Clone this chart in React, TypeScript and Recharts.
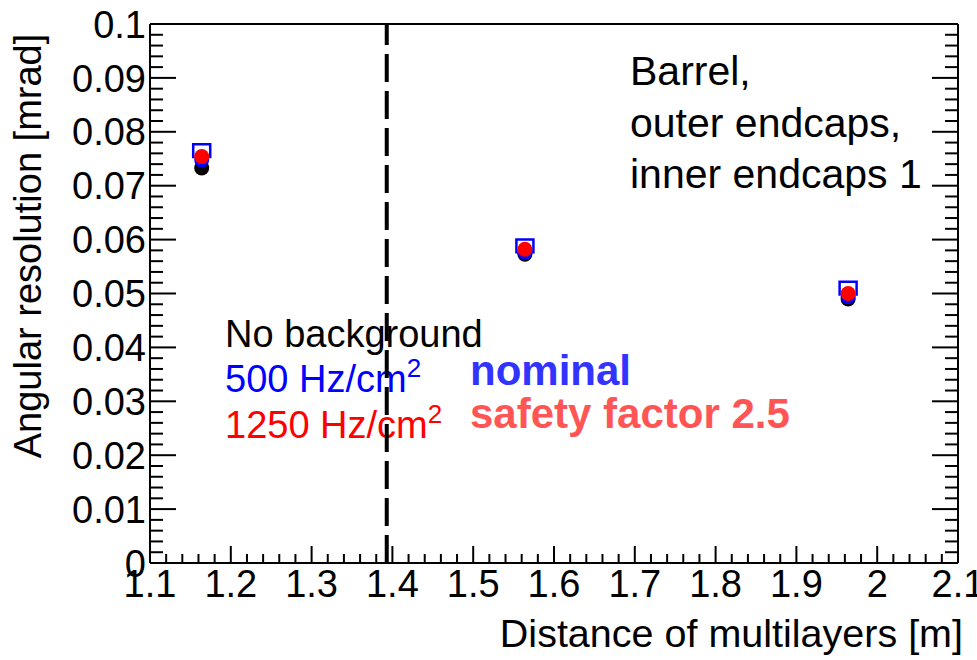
import { ScatterChart, Scatter, XAxis, YAxis, ReferenceLine } from 'recharts';

// distance of the multilayers [m]
const distances = [1.164, 1.564, 1.964];

// angular resolution [mrad]
const noBackground = [0.0733, 0.0573, 0.049];
const nominal500 = [0.0748, 0.0576, 0.0494];
const safety1250 = [0.0754, 0.0582, 0.05];
const nominal500Err = [0.0029, 0.0024, 0.0028];

// every 0.02 m / 0.002 mrad; the round values get a long tick (and a label on the bottom/left)
const xTicks = Array.from({ length: 51 }, (_, i) => +(1.1 + i * 0.02).toFixed(2));
const yTicks = Array.from({ length: 51 }, (_, i) => +(i * 0.002).toFixed(3));
const isMajorX = (v: number) => Math.abs(v * 10 - Math.round(v * 10)) < 1e-6;
const isMajorY = (v: number) => Math.abs(v * 100 - Math.round(v * 100)) < 1e-6;

const separator = 1.393;

const W = 977;
const H = 660;
const FONT = '"Liberation Sans", Arial, Helvetica, sans-serif';

const toPoints = (ys: number[]) => distances.map((x, i) => ({ x, y: ys[i] }));
const blackPts = toPoints(noBackground);
const bluePts = toPoints(nominal500);
const redPts = toPoints(safety1250);
const bluePtsUp = toPoints(nominal500.map((v, i) => v + nominal500Err[i]));

const dot = (color: string) => (p: any) => (
    <circle cx={p.cx} cy={p.cy} r={7.5} fill={color} />
);

const bracket = (p: any) => (
    <path
        d={`M${p.cx - 8.5},${p.cy + 14} L${p.cx - 8.5},${p.cy} L${p.cx + 8.5},${p.cy} L${p.cx + 8.5},${p.cy + 14}`}
        stroke="#0000ff"
        strokeWidth={2.5}
        fill="none"
    />
);

const tickText = { fontFamily: FONT, fontSize: 38, fill: '#000' };

const fmt = (v: number) => String(+v.toFixed(3));

const BottomTick = (p: any) => {
    const v = p.payload.value;
    const major = isMajorX(v);
    return (
        <g>
            <line x1={p.x} x2={p.x} y1={p.y} y2={p.y - (major ? 17 : 9)} stroke="#000" strokeWidth={2} />
            {major && (
                <text x={p.x} y={p.y + 34} textAnchor="middle" {...tickText}>
                    {fmt(v)}
                </text>
            )}
        </g>
    );
};

const TopTick = (p: any) => {
    const major = isMajorX(p.payload.value);
    return <line x1={p.x} x2={p.x} y1={p.y} y2={p.y + (major ? 17 : 9)} stroke="#000" strokeWidth={2} />;
};

const LeftTick = (p: any) => {
    const v = p.payload.value;
    const major = isMajorY(v);
    return (
        <g>
            <line x1={p.x} x2={p.x + (major ? 26 : 13)} y1={p.y} y2={p.y} stroke="#000" strokeWidth={2} />
            {major && (
                <text x={p.x - 4} y={p.y} dy="0.36em" textAnchor="end" {...tickText}>
                    {fmt(v)}
                </text>
            )}
        </g>
    );
};

const RightTick = (p: any) => {
    const major = isMajorY(p.payload.value);
    return <line x1={p.x} x2={p.x - (major ? 26 : 13)} y1={p.y} y2={p.y} stroke="#000" strokeWidth={2} />;
};

const axisLine = { stroke: '#000', strokeWidth: 2 };
const common = {
    type: 'number' as const,
    interval: 0 as const,
    tickSize: 0,
    tickMargin: 0,
    tickLine: false,
    axisLine,
    allowDataOverflow: true,
};

export default function App() {
    return (
        <div style={{ position: 'absolute', left: 0, top: 0, width: W, height: H, background: '#fff' }}>
            {/* annotation layer, sits under the plot so the separator line crosses the text */}
            <svg width={W} height={H} style={{ position: 'absolute', left: 0, top: 0 }}>
                <g fontFamily={FONT}>
                    <text x={41} y={246} fontSize={38} textAnchor="middle" transform="rotate(-90 41 246)">
                        Angular resolution [mrad]
                    </text>
                    <text x={963} y={647} fontSize={39.5} textAnchor="end">
                        Distance of multilayers [m]
                    </text>

                    <text x={630} y={85} fontSize={41}>Barrel,</text>
                    <text x={630} y={137} fontSize={41}>outer endcaps,</text>
                    <text x={630} y={188} fontSize={41}>inner endcaps 1</text>

                    <text x={225} y={347} fontSize={38}>No background</text>
                    <text x={225} y={392} fontSize={38} fill="#0000ff">
                        500 Hz/cm<tspan dy={-15} fontSize={26}>2</tspan>
                    </text>
                    <text x={225} y={438} fontSize={38} fill="#ff0000">
                        1250 Hz/cm<tspan dy={-15} fontSize={26}>2</tspan>
                    </text>

                    <text x={470} y={385} fontSize={42} fontWeight="bold" fill="#3333ff">nominal</text>
                    <text x={470} y={428} fontSize={42} fontWeight="bold" fill="#ff5555">safety factor 2.5</text>
                </g>
            </svg>

            <div style={{ position: 'absolute', left: 0, top: 0 }}>
                <ScatterChart width={W} height={H} margin={{ top: 14, right: 9, left: 90, bottom: 67 }}>
                    <XAxis
                        {...common}
                        xAxisId="x"
                        dataKey="x"
                        domain={[1.1, 2.1]}
                        ticks={xTicks}
                        height={30}
                        tick={BottomTick}
                    />
                    <XAxis
                        {...common}
                        xAxisId="xTop"
                        orientation="top"
                        domain={[1.1, 2.1]}
                        ticks={xTicks}
                        height={10}
                        tick={TopTick}
                    />
                    <YAxis
                        {...common}
                        yAxisId="y"
                        dataKey="y"
                        domain={[0, 0.1]}
                        ticks={yTicks}
                        width={60}
                        tick={LeftTick}
                    />
                    <YAxis
                        {...common}
                        yAxisId="yRight"
                        orientation="right"
                        domain={[0, 0.1]}
                        ticks={yTicks}
                        width={10}
                        tick={RightTick}
                    />

                    <ReferenceLine
                        xAxisId="x"
                        yAxisId="y"
                        x={separator}
                        stroke="#000"
                        strokeWidth={4}
                        strokeDasharray="28 9"
                    />

                    <Scatter xAxisId="x" yAxisId="y" data={bluePtsUp} shape={bracket} isAnimationActive={false} />
                    <Scatter xAxisId="x" yAxisId="y" data={blackPts} shape={dot('#000000')} isAnimationActive={false} />
                    <Scatter xAxisId="x" yAxisId="y" data={bluePts} shape={dot('#0000ff')} isAnimationActive={false} />
                    <Scatter xAxisId="x" yAxisId="y" data={redPts} shape={dot('#ff0000')} isAnimationActive={false} />
                </ScatterChart>
            </div>
        </div>
    );
}
